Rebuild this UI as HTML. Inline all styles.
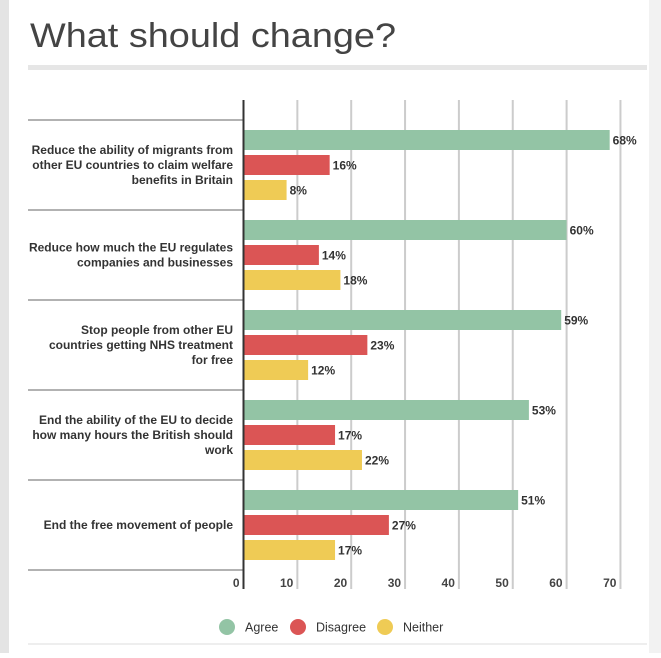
<!DOCTYPE html>
<html><head><meta charset="utf-8"><style>
body{margin:0;width:661px;height:653px;background:#fff;overflow:hidden;font-family:"Liberation Sans",sans-serif}
</style></head><body>
<svg width="661" height="653" id="svg" xmlns="http://www.w3.org/2000/svg">
<rect x="0" y="0" width="9" height="653" fill="#e4e4e4"/>
<rect x="649" y="0" width="12" height="653" fill="#f2f2f2"/>
<text x="30" y="47" font-size="34" fill="#444" textLength="366" lengthAdjust="spacingAndGlyphs">What should change?</text>
<rect x="28" y="65" width="619" height="5" fill="#e6e6e6"/>
<g id="grid"></g><g id="bars"></g>
<line x1="28" y1="644" x2="647" y2="644" stroke="#ddd"/>
</svg>
<script>
const categories=[["Reduce the ability of migrants from","other EU countries to claim welfare","benefits in Britain"],["Reduce how much the EU regulates","companies and businesses"],["Stop people from other EU","countries getting NHS treatment","for free"],["End the ability of the EU to decide","how many hours the British should","work"],["End the free movement of people"]];
const agree=[68,60,59,53,51];
const disagree=[16,14,23,17,27];
const neither=[8,18,12,22,17];
const ticks=[0,10,20,30,40,50,60,70];
const seriesNames=["Agree","Disagree","Neither"];
const colors=["#93c4a5","#db5555","#efcb55"];
const NS="http://www.w3.org/2000/svg";
const x0=243.5,pxPer=5.385,plotTop=100,groupTop=120,groupH=90;
const xs=v=>x0+v*pxPer;
const g=document.getElementById('grid'),b=document.getElementById('bars');
function mk(tag,attrs,parent){const e=document.createElementNS(NS,tag);for(const k in attrs)e.setAttribute(k,attrs[k]);parent.appendChild(e);return e;}
const plotBottom=groupTop+groupH*categories.length;
ticks.forEach(t=>{
  if(t>0){const l=mk('line',{x1:xs(t),y1:plotTop,x2:xs(t),y2:plotBottom+19,stroke:'#ccc','stroke-width':2},g);
  
  }
  const tx=mk('text',{x:xs(t)-4,y:plotBottom+17,'text-anchor':'end','font-size':12,'font-weight':'bold',fill:'#444'},g);
  tx.textContent=t;
  
  
});
for(let i=0;i<=categories.length;i++){
  const l=mk('line',{x1:28,y1:groupTop+i*groupH,x2:x0,y2:groupTop+i*groupH,stroke:'#999','stroke-width':1.5},g);
  
  
}
const ax=mk('line',{x1:x0,y1:plotTop,x2:x0,y2:plotBottom+19,stroke:'#333','stroke-width':2},g);


const series=[agree,disagree,neither];
categories.forEach((c,i)=>{
  const gy=groupTop+i*groupH;
  const lbl=mk('text',{'text-anchor':'end','font-size':12,'font-weight':'bold',fill:'#333'},b);
  
  
  const lh=15,start=gy+45-(c.length-1)*lh/2+4;
  c.forEach((line,j)=>{const ts=mk('tspan',{x:233,y:start+j*lh},lbl);ts.textContent=line;});
  series.forEach((s,k)=>{
    const y=gy+10+k*25;
    const r=mk('rect',{x:x0+1,y:y,width:xs(s[i])-x0-1,height:20,fill:colors[k]},b);
    
    
    const t=mk('text',{x:xs(s[i])+3,y:y+14.5,'font-size':12,'font-weight':'bold',fill:'#333'},b);
    t.textContent=s[i]+'%';
    
    
  });
});
const legX=[227,298,385];
seriesNames.forEach((n,k)=>{
  const c=mk('circle',{cx:legX[k],cy:627,r:8,fill:colors[k]},b);
  
  
  const t=mk('text',{x:legX[k]+18,y:631.5,'font-size':12.5,fill:'#333'},b);
  t.textContent=n;
  
  
});
</script>
</body></html>
